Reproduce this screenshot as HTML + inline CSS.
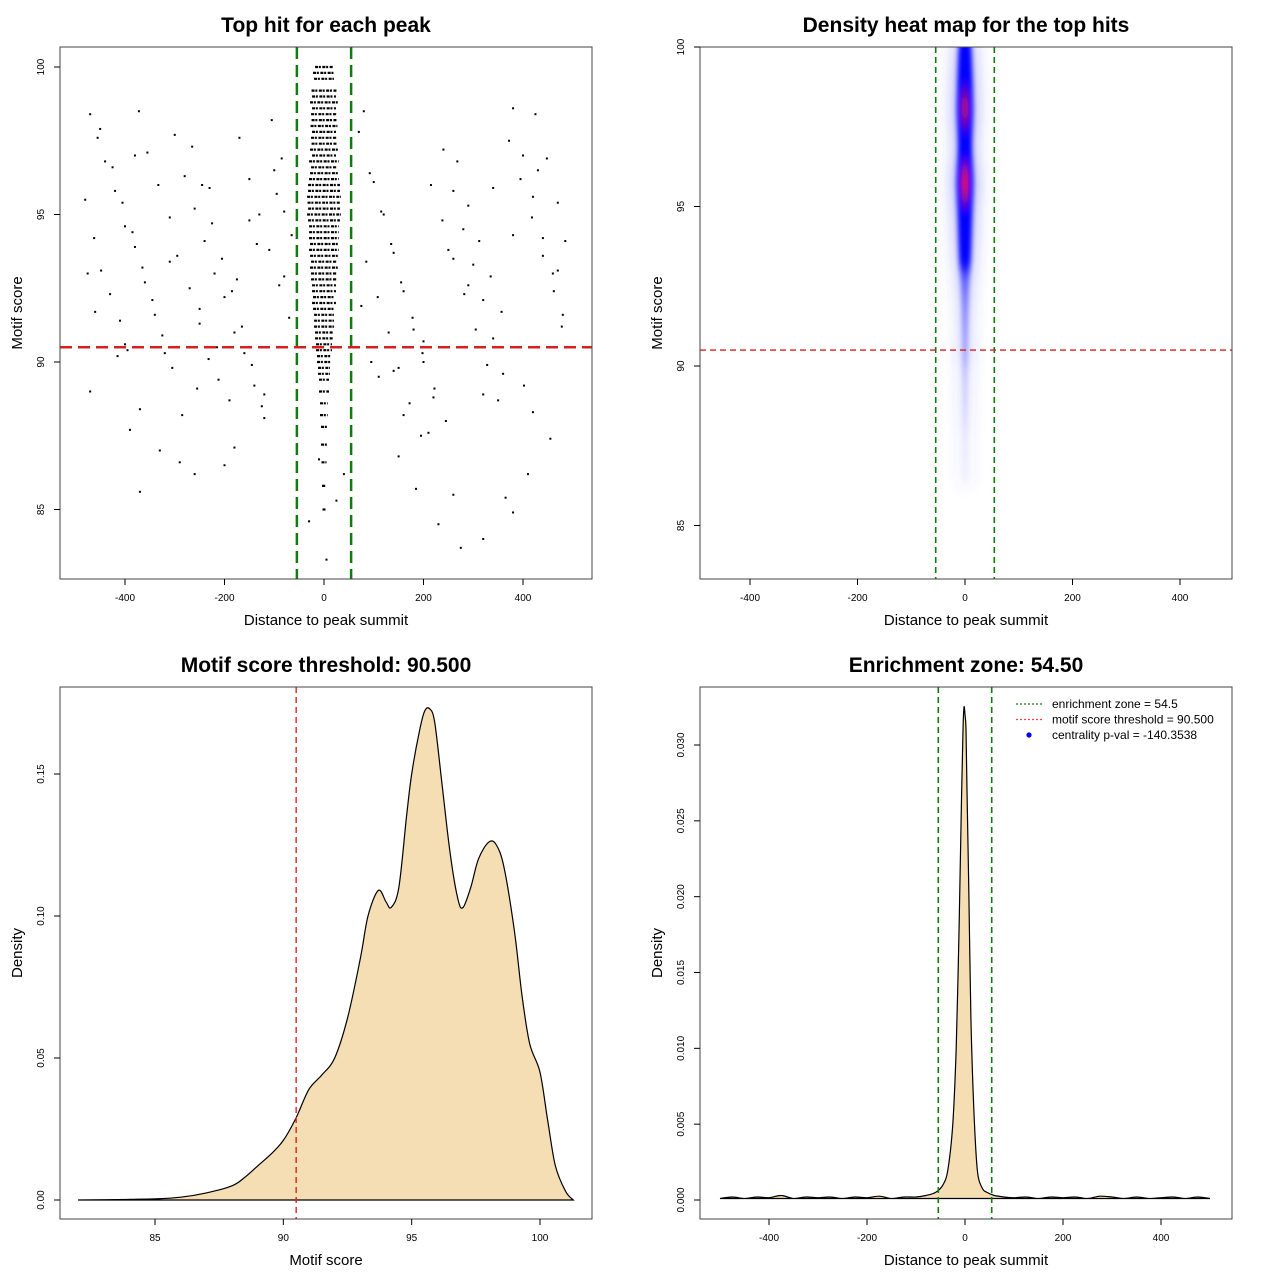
<!DOCTYPE html>
<html><head><meta charset="utf-8">
<style>
html,body{margin:0;padding:0;background:#fff;}
svg{display:block;font-family:"Liberation Sans",sans-serif;}
</style></head>
<body>
<svg id="s" width="1280" height="1280" viewBox="0 0 1280 1280" xmlns="http://www.w3.org/2000/svg">
<defs>
<filter id="blur" x="-100%" y="-50%" width="300%" height="200%"><feGaussianBlur stdDeviation="6"/></filter>
<filter id="blur2" x="-100%" y="-50%" width="300%" height="200%"><feGaussianBlur stdDeviation="2.5 6"/></filter>
</defs>
</svg>
<script>
// ---------- data ----------
const bgX = [-470,-455,-440,-420,-400,-380,-360,-340,-320,-300,-280,-260,-240,-220,-200,-180,-160,-140,-120,-100,-80,
 -480,-462,-448,-430,-410,-395,-372,-355,-333,-310,-295,-270,-250,-232,-212,-190,-170,-150,-130,-110,-90,-70,
 -475,-450,-425,-405,-385,-365,-345,-325,-305,-285,-265,-245,-225,-205,-185,-165,-145,-125,-105,-85,-65,
 -460,-415,-370,-330,-290,-255,-215,-175,-135,-95,-470,-390,-310,-230,-150,-80,-260,-180,-120,-370,-200,-400,-250,
 80,100,120,140,160,180,200,220,240,260,280,300,320,340,360,380,400,420,440,460,480,
 70,92,115,135,155,178,198,222,245,268,290,312,335,357,380,402,425,448,470,485,
 85,108,130,150,172,195,215,238,260,282,305,328,350,372,395,418,440,462,478,
 95,140,185,230,275,320,365,410,455,75,160,250,340,430,110,200,290,380,470,260,320,150,210,380,420,-380,
 -30,25,-10,40,5];
const bgY = [98.4,97.6,96.8,95.8,94.6,93.9,92.7,91.6,90.3,97.7,96.3,95.2,94.1,93.0,92.2,91.0,90.3,89.2,88.1,96.5,95.1,
 95.5,94.2,93.1,92.3,91.4,90.4,98.5,97.1,96.0,94.9,93.6,92.5,91.3,90.1,89.4,88.7,97.6,96.2,95.0,93.8,92.6,91.5,
 93.0,97.9,96.6,95.4,94.4,93.2,92.1,90.9,89.8,88.2,97.3,96.0,94.7,93.5,92.4,91.2,89.9,88.5,98.2,96.9,94.3,
 91.7,90.2,88.4,87.0,86.6,89.1,90.5,92.8,94.0,95.7,89.0,87.7,93.4,95.9,94.8,92.9,86.2,87.1,88.9,85.6,86.5,90.6,91.8,
 98.5,96.1,95.0,93.7,92.4,91.1,90.0,88.8,97.2,95.8,94.5,93.3,92.1,90.8,89.6,98.6,97.0,95.6,94.2,93.0,91.6,
 97.8,96.4,95.1,94.0,92.7,91.5,90.3,89.1,88.0,96.8,95.3,94.1,92.9,91.7,90.5,89.2,98.4,96.9,95.4,94.1,
 93.4,92.2,91.0,89.8,88.6,87.5,96.0,94.8,93.5,92.3,91.1,89.9,88.7,97.5,96.2,94.9,93.6,92.4,91.2,
 90.0,89.7,85.7,84.5,83.7,84.0,85.4,86.2,87.4,91.9,88.2,93.8,95.9,96.5,89.5,90.7,92.6,94.3,93.1,85.5,88.9,86.8,87.6,84.9,88.3,97.0,
 84.6,85.3,86.7,86.2,83.3];
const cScores = [100,99.8,99.6,99.2,99.0,98.8,98.6,98.4,98.2,98.0,97.8,97.6,97.4,97.2,97.0,96.8,96.6,96.4,96.2,96.0,95.8,95.6,95.4,95.2,95.0,94.8,94.6,94.4,94.2,94.0,93.8,93.6,93.4,93.2,93.0,92.8,92.6,92.4,92.2,92.0,91.8,91.6,91.4,91.2,91.0,90.8,90.6,90.4,90.2,90.0,89.8,89.6,89.4,89.0,88.6,88.2,87.8,87.2,86.6,85.8,85.0];
const cHalf   = [18,22,20,25,24,28,24,26,25,27,24,26,25,28,24,30,26,28,30,32,32,34,33,32,34,32,30,30,30,28,30,28,26,28,26,26,24,24,22,24,22,20,20,20,18,18,16,16,14,14,12,12,10,10,8,8,6,6,5,4,3];
const hScores = [100.2,99.9,99.6,99.3,99.0,98.7,98.4,98.1,97.8,97.5,97.2,96.9,96.6,96.3,96.0,95.7,95.4,95.1,94.8,94.5,94.2,93.9,93.6,93.3,93.0,92.7,92.4,92.1,91.8,91.5,91.2,90.9,90.6,90.3,90.0,89.6,89.2,88.8,88.4,88.0,87.5,87.0,86.5];
const hDens   = [0.6,0.7,0.75,0.8,0.85,0.88,0.92,0.95,0.93,0.86,0.8,0.78,0.8,0.88,0.97,1.0,0.95,0.88,0.82,0.78,0.74,0.7,0.66,0.6,0.52,0.44,0.38,0.33,0.3,0.27,0.25,0.23,0.21,0.19,0.17,0.15,0.13,0.11,0.09,0.08,0.06,0.05,0.04];
const dScore = [82,84,85,86,87,88,88.5,89,89.5,90,90.5,91,91.5,92,92.5,93,93.3,93.7,94,94.2,94.5,94.8,95,95.3,95.5,95.7,95.9,96.2,96.5,96.8,97,97.3,97.6,98,98.3,98.6,99,99.3,99.6,100,100.3,100.6,101,101.3];
const dDens  = [0,0.0002,0.0004,0.001,0.0025,0.005,0.008,0.012,0.016,0.021,0.029,0.039,0.044,0.05,0.064,0.085,0.1,0.109,0.105,0.103,0.11,0.135,0.15,0.165,0.172,0.173,0.168,0.145,0.122,0.106,0.103,0.11,0.12,0.126,0.125,0.117,0.095,0.072,0.055,0.045,0.028,0.012,0.003,0];
const eX = [-500,-475,-450,-425,-400,-375,-350,-325,-300,-275,-250,-225,-200,-175,-150,-125,-100,-80,-60,-45,-35,-25,-18,-12,-8,-4,-2,0,2,4,8,12,18,25,35,45,60,80,100,125,150,175,200,225,250,275,300,325,350,375,400,425,450,475,500];
const eD = [0.0001,0.0002,0.0001,0.0002,0.00015,0.0003,0.0001,0.0002,0.00015,0.0002,0.0001,0.0002,0.00015,0.00025,0.0001,0.0002,0.0002,0.0003,0.0005,0.001,0.002,0.005,0.01,0.018,0.025,0.031,0.0325,0.032,0.031,0.027,0.02,0.012,0.006,0.002,0.0008,0.0005,0.0003,0.0002,0.00015,0.0002,0.0001,0.0002,0.00015,0.0002,0.0001,0.00025,0.0002,0.0001,0.0002,0.0001,0.00015,0.0002,0.0001,0.0002,0.0001];
const xTicksDist = [-400,-200,0,200,400];
const yTicks1 = [85,90,95,100];
const xTicks3 = [85,90,95,100];
const yTicks3 = [0,0.05,0.10,0.15];
const yTicks3Lab = ["0.00","0.05","0.10","0.15"];
const yTicks4 = [0,0.005,0.010,0.015,0.020,0.025,0.030];
const yTicks4Lab = ["0.000","0.005","0.010","0.015","0.020","0.025","0.030"];
const zone = 54.5, thr = 90.5;

const svg = document.getElementById('s');
const NS = 'http://www.w3.org/2000/svg';
function mk(tag, attrs, parent){const e=document.createElementNS(NS,tag);for(const k in attrs)e.setAttribute(k,attrs[k]);(parent||svg).appendChild(e);return e;}
function lin(d0,d1,r0,r1){return v=>r0+(v-d0)*(r1-r0)/(d1-d0);}
function smooth(pts){
  let d='M'+pts[0][0].toFixed(1)+','+pts[0][1].toFixed(1);
  for(let i=0;i<pts.length-1;i++){
    const p0=pts[Math.max(0,i-1)],p1=pts[i],p2=pts[i+1],p3=pts[Math.min(pts.length-1,i+2)];
    const c1=[p1[0]+(p2[0]-p0[0])/6,p1[1]+(p2[1]-p0[1])/6],c2=[p2[0]-(p3[0]-p1[0])/6,p2[1]-(p3[1]-p1[1])/6];
    d+=` C${c1[0].toFixed(1)},${c1[1].toFixed(1)} ${c2[0].toFixed(1)},${c2[1].toFixed(1)} ${p2[0].toFixed(1)},${p2[1].toFixed(1)}`;
  }
  return d;
}

function axes(p){
  const g=mk('g',{});
  
  
  const t=mk('text',{x:(p.L+p.R)/2,y:p.T-15,'text-anchor':'middle','font-size':21,'font-weight':'bold'},g);
  t.textContent=p.title;
  
  
  p.xt.forEach((v,i)=>{const x=p.sx(v);mk('line',{x1:x,x2:x,y1:p.B,y2:p.B+6,stroke:'#000'},g);
    const l=mk('text',{x:x,y:p.B+22,'text-anchor':'middle','font-size':10},g);l.textContent=p.xl?p.xl[i]:v;
    
    });
  p.yt.forEach((v,i)=>{const y=p.sy(v);mk('line',{x1:p.L,x2:p.L-6,y1:y,y2:y,stroke:'#000'},g);
    const l=mk('text',{x:p.L-16,y:y,'text-anchor':'middle','font-size':10,transform:`rotate(-90 ${p.L-16} ${y})`},g);l.textContent=p.yl?p.yl[i]:v;
    
    });
  const xl=mk('text',{x:(p.L+p.R)/2,y:p.B+46,'text-anchor':'middle','font-size':15},g);xl.textContent=p.xlab;
  
  
  const yx=p.L-38, yy=(p.T+p.B)/2;
  const yl=mk('text',{x:yx,y:yy,'text-anchor':'middle','font-size':15,transform:`rotate(-90 ${yx} ${yy})`},g);yl.textContent=p.ylab;
  
  
}
function box(p){const r=mk('rect',{x:p.L,y:p.T,width:p.R-p.L,height:p.B-p.T,fill:'none',stroke:'#444','stroke-width':1});
  
  }

// ---------- Panel 1 ----------
{
const p={name:'scatter',L:60,R:592,T:47,B:579,title:'Top hit for each peak',xlab:'Distance to peak summit',ylab:'Motif score',xt:xTicksDist,yt:yTicks1};
p.sx=lin(0,400,324,523); p.sy=lin(90,100,362,67);
const g=mk('g',{});


bgX.forEach((v,i)=>{mk('rect',{x:p.sx(v)-1,y:p.sy(bgY[i])-1,width:2,height:2,fill:'#000'},g);});
cScores.forEach((s,i)=>{const y=p.sy(s);
  const l=mk('line',{x1:p.sx(-cHalf[i]),x2:p.sx(cHalf[i]),y1:y,y2:y,stroke:'#000','stroke-width':2.2,'stroke-dasharray':'3 0.8 2 1.5'},g);
  
  });
[-zone,zone].forEach(z=>{const l=mk('line',{x1:p.sx(z),x2:p.sx(z),y1:p.T,y2:p.B,stroke:'#117a11','stroke-width':2.5,'stroke-dasharray':'12 6'});
  
  });
const r=mk('line',{x1:p.L,x2:p.R,y1:p.sy(thr),y2:p.sy(thr),stroke:'#d42020','stroke-width':2.5,'stroke-dasharray':'12 6'});


box(p);axes(p);
}
// ---------- Panel 2 ----------
{
const p={name:'heatmap',L:700,R:1232,T:47,B:579,title:'Density heat map for the top hits',xlab:'Distance to peak summit',ylab:'Motif score',xt:xTicksDist,yt:yTicks1};
p.sx=lin(0,400,965,1180); p.sy=lin(90,100,366,47);
const cp=mk('clipPath',{id:'c2'},svg.querySelector('defs'));mk('rect',{x:p.L,y:p.T,width:p.R-p.L,height:p.B-p.T},cp);
const g=mk('g',{'clip-path':'url(#c2)'});


const gb=mk('g',{filter:'url(#blur)'},g);
hScores.forEach((s,i)=>{const d=hDens[i];
  mk('ellipse',{cx:p.sx(0),cy:p.sy(s),rx:10+8*d,ry:12,fill:'#4040ff','fill-opacity':0.04+0.12*d},gb);});
const gb2=mk('g',{filter:'url(#blur2)'},g);
hScores.forEach((s,i)=>{const d=hDens[i];
  mk('ellipse',{cx:p.sx(0),cy:p.sy(s),rx:2+7*d,ry:11,fill:'#0000ff','fill-opacity':d>0.55?0.9:d*0.7},gb2);});
hScores.forEach((s,i)=>{const d=hDens[i];
  if(d>=0.9) mk('ellipse',{cx:p.sx(0),cy:p.sy(s),rx:3.2,ry:12,fill:'#ff1010','fill-opacity':Math.min(1,(d-0.85)*5)},gb2);});
[-zone,zone].forEach(z=>{const l=mk('line',{x1:p.sx(z),x2:p.sx(z),y1:p.T,y2:p.B,stroke:'#117a11','stroke-width':1.6,'stroke-dasharray':'6 4'});
  
  });
const r=mk('line',{x1:p.L,x2:p.R,y1:p.sy(thr),y2:p.sy(thr),stroke:'#d42020','stroke-width':1.4,'stroke-dasharray':'6 4'});


box(p);axes(p);
}
// ---------- Panel 3 ----------
{
const p={name:'score-density',L:60,R:592,T:687,B:1219,title:'Motif score threshold: 90.500',xlab:'Motif score',ylab:'Density',xt:xTicks3,yt:yTicks3,yl:yTicks3Lab};
p.sx=lin(85,100,155,540); p.sy=lin(0,0.15,1200,774);
const d=smooth(dScore.map((s,i)=>[p.sx(s),p.sy(dDens[i])]));
const a=mk('path',{d:d+' Z',fill:'#f5deb3',stroke:'#000','stroke-width':1.2});


const r=mk('line',{x1:p.sx(thr),x2:p.sx(thr),y1:p.T,y2:p.B,stroke:'#e02020','stroke-width':1.4,'stroke-dasharray':'6 4'});


box(p);axes(p);
}
// ---------- Panel 4 ----------
{
const p={name:'distance-density',L:700,R:1232,T:687,B:1219,title:'Enrichment zone: 54.50',xlab:'Distance to peak summit',ylab:'Density',xt:xTicksDist,yt:yTicks4,yl:yTicks4Lab};
p.sx=lin(0,400,965,1161); p.sy=lin(0,0.03,1200,745);
const d=smooth(eX.map((s,i)=>[p.sx(s),p.sy(eD[i])]));
const a=mk('path',{d:d+' Z',fill:'#f5deb3',stroke:'#000','stroke-width':1.2});


[-zone,zone].forEach(z=>{const l=mk('line',{x1:p.sx(z),x2:p.sx(z),y1:p.T,y2:p.B,stroke:'#117a11','stroke-width':1.6,'stroke-dasharray':'6 4'});
  
  });
box(p);axes(p);
const lg=mk('g',{});


const items=[['line','#117a11','enrichment zone = 54.5'],['line','#ff4040','motif score threshold = 90.500'],['dot','#0000ff','centrality p-val = -140.3538']];
items.forEach((it,i)=>{const y=704+i*15.5;
  if(it[0]==='line') mk('line',{x1:1016,x2:1042,y1:y,y2:y,stroke:it[1],'stroke-width':1.3,'stroke-dasharray':'2 2'},lg);
  else mk('circle',{cx:1029,cy:y,r:2.6,fill:it[1]},lg);
  const t=mk('text',{x:1052,y:y+4,'font-size':12},lg);t.textContent=it[2];
  
  });
}
</script>
</body></html>
